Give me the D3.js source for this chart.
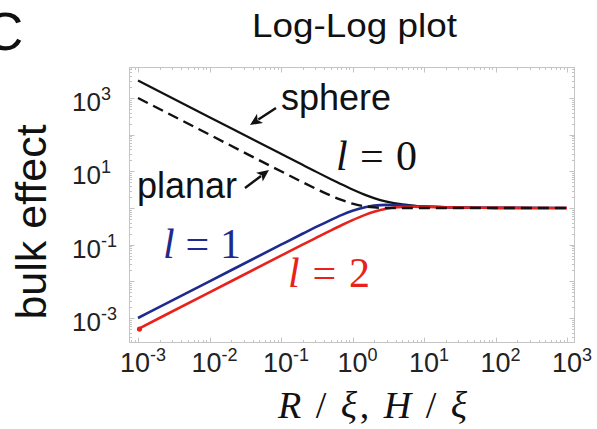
<!DOCTYPE html>
<html>
<head>
<meta charset="utf-8">
<script src="https://cdn.jsdelivr.net/npm/d3@7"></script>
<style>
  html, body { margin: 0; padding: 0; background: #fff; }
  svg { display: block; }
</style>
</head>
<body>
<svg id="chart" width="597" height="429"></svg>
<script>
// Normalised size R/ξ (sphere) or H/ξ (slab)
const ratio = [0.001, 0.01, 0.1, 0.2, 0.3, 0.5, 0.7, 1, 1.5, 2, 3, 5, 7, 10, 20, 50, 100, 1000];
// Bulk effect, sphere l = 0
const sphereL0 = [3000, 300, 30.02, 15.04, 10.06, 6.10, 4.424, 3.195, 2.282, 1.861, 1.489, 1.250, 1.167, 1.111, 1.053, 1.020, 1.010, 1.001];
// Bulk effect, planar slab
const planar = [1000, 100, 10.03, 5.066, 3.433, 2.164, 1.655, 1.313, 1.105, 1.037, 1.005, 1.000, 1.000, 1.000, 1.000, 1.000, 1.000, 1.000];
// Bulk effect, sphere l = 1
const sphereL1 = [0.001, 0.01, 0.0998, 0.1984, 0.2948, 0.4763, 0.6383, 0.8372, 1.0536, 1.1613, 1.2162, 1.1767, 1.1351, 1.0976, 1.0497, 1.0200, 1.0100, 1.001];
// Bulk effect, sphere l = 2
const sphereL2 = [0.0005, 0.005, 0.04999, 0.0997, 0.1490, 0.2457, 0.3385, 0.4672, 0.6492, 0.7879, 0.9565, 1.0652, 1.0796, 1.0719, 1.0440, 1.0191, 1.0098, 1.001];

// Axis decades
const xTickExps = [-3, -2, -1, 0, 1, 2, 3];
const yLabelExps = [-3, -1, 1, 3];

const SANS = "'Liberation Sans', Arial, Helvetica, sans-serif";
const SERIF = "'Liberation Serif', 'Times New Roman', serif";
const BLUE = "#1f2a8e";
const RED = "#e8211b";
const GRID = "#c4c4c4";

const svg = d3.select("#chart");

const frame = { left: 129.5, right: 574.5, top: 67.5, bottom: 342.5 };
const x = d3.scaleLog().domain([1e-3, 1e3]).range([138, 567]);
const y = d3.scaleLog().domain([1e-3, 1e3]).range([318, 98]);

// Panel letter and title
svg.append("text").attr("x", -15).attr("y", 50)
  .attr("font-family", SANS).attr("font-size", 53).attr("fill", "#111").text("C");
svg.append("text").attr("x", 252).attr("y", 37)
  .attr("font-family", SANS).attr("font-size", 33).attr("fill", "#111")
  .attr("textLength", 205).attr("lengthAdjust", "spacingAndGlyphs")
  .text("Log-Log plot");

// Frame
svg.append("rect")
  .attr("x", frame.left).attr("y", frame.top)
  .attr("width", frame.right - frame.left).attr("height", frame.bottom - frame.top)
  .attr("fill", "none").attr("stroke", GRID).attr("stroke-width", 1);

// Inward ticks on all four sides (major per decade, minor 2..9)
function ticksFor(scale, lo, hi) {
  const out = [];
  for (let e = -4; e <= 3; e++) {
    for (let m = 1; m <= 9; m++) {
      const v = m * Math.pow(10, e);
      const p = scale(v);
      if (p >= lo && p <= hi) out.push({ p, major: m === 1 });
    }
  }
  return out;
}
const tg = svg.append("g").attr("stroke", GRID).attr("stroke-width", 1);
ticksFor(x, frame.left + 1, frame.right - 1).forEach(t => {
  const len = t.major ? 5 : 2.5;
  const px = Math.round(t.p) + 0.5;
  tg.append("line").attr("x1", px).attr("x2", px).attr("y1", frame.bottom).attr("y2", frame.bottom - len);
  tg.append("line").attr("x1", px).attr("x2", px).attr("y1", frame.top).attr("y2", frame.top + len);
});
ticksFor(y, frame.top + 1, frame.bottom - 1).forEach(t => {
  const len = t.major ? 5 : 2.5;
  const py = Math.round(t.p) + 0.5;
  tg.append("line").attr("y1", py).attr("y2", py).attr("x1", frame.left).attr("x2", frame.left + len);
  tg.append("line").attr("y1", py).attr("y2", py).attr("x1", frame.right).attr("x2", frame.right - len);
});

// Tick labels as 10 with superscript exponent
function powerLabel(sel, exp) {
  sel.append("tspan").text("10");
  sel.append("tspan").attr("font-size", 18).attr("dy", -11).text(String(exp));
}
xTickExps.forEach(e => {
  const t = svg.append("text")
    .attr("x", x(Math.pow(10, e)) + 5).attr("y", 372)
    .attr("text-anchor", "middle")
    .attr("font-family", SANS).attr("font-size", 27).attr("fill", "#222");
  powerLabel(t, e);
});
yLabelExps.forEach(e => {
  const t = svg.append("text")
    .attr("x", 72).attr("y", y(Math.pow(10, e)) + 13)
    .attr("font-family", SANS).attr("font-size", 26).attr("fill", "#222");
  powerLabel(t, e);
});

// Axis titles
svg.append("text")
  .attr("transform", "translate(46,222) rotate(-90)")
  .attr("text-anchor", "middle")
  .attr("font-family", SANS).attr("font-size", 43).attr("fill", "#111")
  .text("bulk effect");

const xl = svg.append("text")
  .attr("x", 278).attr("y", 418)
  .attr("font-family", SERIF).attr("font-size", 38).attr("fill", "#111")
  .attr("textLength", 189).attr("lengthAdjust", "spacing");
xl.append("tspan").attr("font-style", "italic").text("R");
xl.append("tspan").text(" / ");
xl.append("tspan").attr("font-style", "italic").text("ξ");
xl.append("tspan").text(", ");
xl.append("tspan").attr("font-style", "italic").text("H");
xl.append("tspan").text(" / ");
xl.append("tspan").attr("font-style", "italic").text("ξ");

// Curves
const line = d3.line()
  .x(d => x(d[0]))
  .y(d => y(d[1]))
  .curve(d3.curveMonotoneX);
const pairs = vals => ratio.map((r, i) => [r, vals[i]]);

const plot = svg.append("g").attr("fill", "none").attr("stroke-linejoin", "round");
plot.append("path").attr("d", line(pairs(sphereL0)))
  .attr("stroke", "#111").attr("stroke-width", 2.2);
plot.append("path").attr("d", line(pairs(sphereL1)))
  .attr("stroke", BLUE).attr("stroke-width", 2.6);
plot.append("path").attr("d", line(pairs(sphereL2)))
  .attr("stroke", RED).attr("stroke-width", 2.6);
svg.append("circle")
  .attr("cx", x(ratio[0]) + 1.5).attr("cy", y(sphereL2[0]))
  .attr("r", 2.6).attr("fill", RED);
plot.append("path").attr("d", line(pairs(planar)))
  .attr("stroke", "#111").attr("stroke-width", 2.4)
  .attr("stroke-dasharray", "11,6");

// Annotation arrows
function arrow(x1, y1, x2, y2) {
  const ang = Math.atan2(y2 - y1, x2 - x1);
  const L = 12, W = 5.5;
  const bx = x2 - L * Math.cos(ang), by = y2 - L * Math.sin(ang);
  svg.append("line")
    .attr("x1", x1).attr("y1", y1).attr("x2", bx + 2 * Math.cos(ang)).attr("y2", by + 2 * Math.sin(ang))
    .attr("stroke", "#111").attr("stroke-width", 2.4);
  const px = -Math.sin(ang), py = Math.cos(ang);
  svg.append("path")
    .attr("d", `M${x2},${y2}L${bx + W * px},${by + W * py}L${bx + 3 * Math.cos(ang)},${by + 3 * Math.sin(ang)}L${bx - W * px},${by - W * py}Z`)
    .attr("fill", "#111");
}

svg.append("text").attr("x", 281).attr("y", 110)
  .attr("font-family", SANS).attr("font-size", 36).attr("fill", "#111").text("sphere");
arrow(276, 108, 250, 125);

svg.append("text").attr("x", 137).attr("y", 198)
  .attr("font-family", SANS).attr("font-size", 36).attr("fill", "#111").text("planar");
arrow(245, 188, 269, 170);

function lLabel(xp, yp, num, color, len) {
  const t = svg.append("text").attr("x", xp).attr("y", yp)
    .attr("font-family", SERIF).attr("font-size", 42).attr("fill", color)
    .attr("textLength", len).attr("lengthAdjust", "spacing");
  t.append("tspan").attr("font-style", "italic").text("l");
  t.append("tspan").text(" = " + num);
}
lLabel(336, 170, "0", "#111", 81);
lLabel(163, 258, "1", BLUE, 78);
lLabel(288, 287, "2", RED, 82);
</script>
</body>
</html>
